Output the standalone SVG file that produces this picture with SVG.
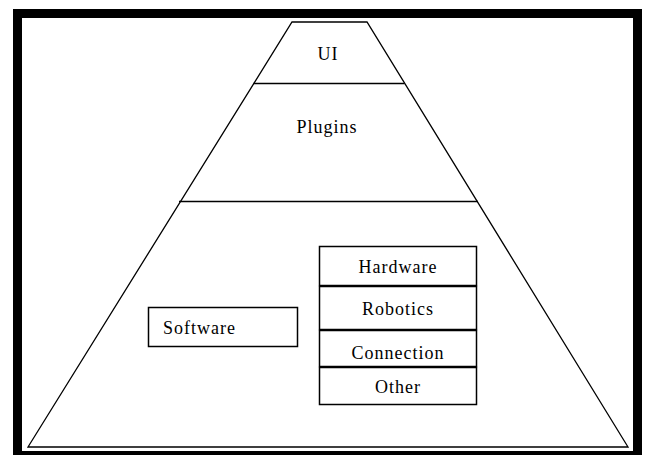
<svg xmlns="http://www.w3.org/2000/svg" width="647" height="455" viewBox="0 0 647 455">
<style>
.ln{stroke:#000;stroke-width:1.3;fill:none}
.bx{stroke:#000;stroke-width:1.5;fill:#fff}
.t{font-family:"Liberation Serif",serif;font-size:18px;letter-spacing:1px;fill:#000}
.c{text-anchor:middle}
</style>
<rect x="0" y="0" width="647" height="455" fill="#fff"/>
<rect x="17.5" y="13.5" width="620" height="442" fill="none" stroke="#000" stroke-width="9"/>
<g id="pyramid">
<polygon class="ln" points="292,22 367,22 628,447 28,447"/>
</g>
<g id="connectors">
<line class="ln" x1="253.5" y1="83.5" x2="404.5" y2="83.5"/>
<line class="ln" x1="179" y1="201.5" x2="478" y2="201.5"/>
</g>
<g id="ui"><text class="t c" x="328" y="60">UI</text></g>
<g id="plugins"><text class="t c" x="327" y="133">Plugins</text></g>
<g id="software"><rect class="bx" x="148.5" y="307.5" width="149" height="39"/><text class="t" x="163" y="334">Software</text></g>
<g id="hardware"><rect class="bx" x="319.5" y="246.5" width="157" height="39"/><text class="t c" x="398" y="273">Hardware</text></g>
<g id="robotics"><rect class="bx" x="319.5" y="286.5" width="157" height="43"/><text class="t c" x="398" y="315">Robotics</text></g>
<g id="connection"><rect class="bx" x="319.5" y="330.5" width="157" height="36"/><text class="t c" x="398" y="359">Connection</text></g>
<g id="other"><rect class="bx" x="319.5" y="367.5" width="157" height="37"/><text class="t c" x="398" y="393">Other</text></g>
</svg>
